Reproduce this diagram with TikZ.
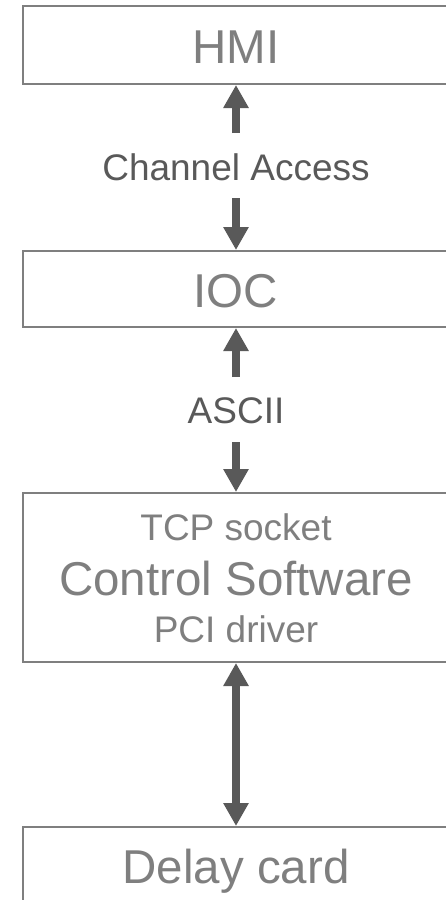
\documentclass[tikz,border=0pt]{standalone}
\usepackage{fontspec}
\setmainfont{Liberation Sans}
\usetikzlibrary{arrows.meta}
\definecolor{boxgray}{HTML}{7F7F7F}
\definecolor{txtgray}{HTML}{7F7F7F}
\definecolor{darkgray}{HTML}{595959}
\tikzset{
  blockbox/.style={draw=boxgray, line width=2pt, minimum width=426pt, inner sep=0pt, fill=white},
  bigtxt/.style={text=txtgray, font=\fontsize{47.5}{52}\selectfont, anchor=base, inner sep=0pt},
  smalltxt/.style={text=txtgray, font=\fontsize{37}{40}\selectfont, anchor=base, inner sep=0pt},
  labeltxt/.style={text=darkgray, font=\fontsize{37}{40}\selectfont, anchor=base, inner sep=0pt},
  arr/.style={draw=darkgray, line width=8pt, -{Triangle[width=24pt,length=23pt]}},
  darr/.style={draw=darkgray, line width=8pt, {Triangle[width=24pt,length=23pt]}-{Triangle[width=24pt,length=23pt]}}
}
\begin{document}
\begin{tikzpicture}[x=1pt,y=-1pt]
\useasboundingbox (0,0) rectangle (446,900);
\clip (0,0) rectangle (446,900);
% boxes
\node[blockbox, minimum height=78pt] (hmi) at (236,45) {};
\node[blockbox, minimum height=76pt] (ioc) at (236,289) {};
\node[blockbox, minimum height=169pt] (ctrl) at (236,577.5) {};
\node[blockbox, minimum height=79pt] (delay) at (236,866.5) {};
% box texts
\node[bigtxt] (thmi) at (236,63) {HMI};
\node[bigtxt] (tioc) at (236,307) {IOC};
\node[smalltxt] (ttcp) at (236,540) {TCP socket};
\node[bigtxt] (tctrl) at (236,595) {Control Software};
\node[smalltxt] (tpci) at (236,642) {PCI driver};
\node[bigtxt] (tdelay) at (236,883) {Delay card};
% labels
\node[labeltxt] (ca) at (236,180) {Channel Access};
\node[labeltxt] (ascii) at (236,423) {ASCII};
% arrow ends
\coordinate (caup) at (236,133);
\coordinate (cadown) at (236,198);
\coordinate (asup) at (236,377);
\coordinate (asdown) at (236,442);
% arrows
\draw[arr] (caup) -- (hmi.south);
\draw[arr] (cadown) -- (ioc.north);
\draw[arr] (asup) -- (ioc.south);
\draw[arr] (asdown) -- (ctrl.north);
\draw[darr] (ctrl.south) -- (delay.north);
\end{tikzpicture}
\end{document}
